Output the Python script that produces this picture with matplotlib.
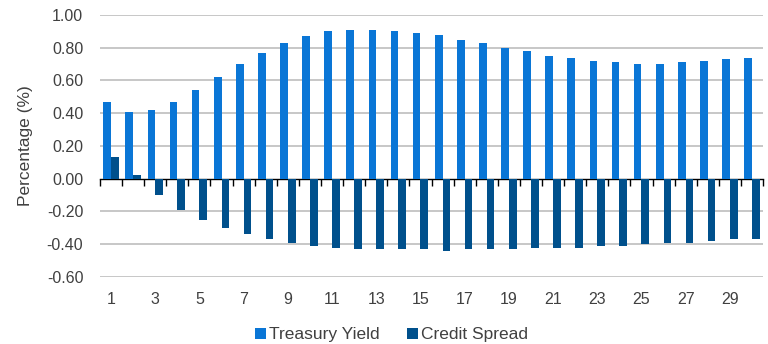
import numpy as np
import matplotlib.pyplot as plt

plt.rcParams['font.family'] = ['Liberation Sans', 'DejaVu Sans']

# maturity (years) and the two components of the change, in %
years = np.arange(1, 31)
treasury = [0.47, 0.41, 0.42, 0.47, 0.54, 0.62, 0.70, 0.77, 0.83, 0.87,
            0.90, 0.91, 0.91, 0.90, 0.89, 0.88, 0.85, 0.83, 0.80, 0.78,
            0.75, 0.74, 0.72, 0.71, 0.70, 0.70, 0.71, 0.72, 0.73, 0.74]
spread = [0.13, 0.02, -0.10, -0.19, -0.25, -0.30, -0.34, -0.37, -0.39, -0.41,
          -0.42, -0.43, -0.43, -0.43, -0.43, -0.44, -0.43, -0.43, -0.43, -0.42,
          -0.42, -0.42, -0.41, -0.41, -0.40, -0.39, -0.39, -0.38, -0.37, -0.37]
tick_years = years[::2]

light = '#0A76D6'
dark = '#00508C'
grey = '#404040'

fig = plt.figure(figsize=(7.68, 3.44), dpi=100)
ax = fig.add_axes([0.1302, 0.1948, 0.8633, 0.7616])

w = 0.35
ax.bar(years - w/2, treasury, width=w, color=light, label='Treasury Yield', zorder=2)
ax.bar(years + w/2, spread, width=w, color=dark, label='Credit Spread', zorder=2)

ax.set_xlim(0.5, 30.5)
ax.set_ylim(-0.6, 1.0)
yt = np.arange(-0.6, 1.01, 0.2)
ax.set_yticks(yt)
ax.set_yticklabels(['%.2f' % v for v in yt])
ax.set_xticks(tick_years)
ax.set_xticklabels([str(v) for v in tick_years])
ax.tick_params(axis='both', length=0, labelsize=11.5, colors=grey)
ax.tick_params(axis='y', pad=12)
ax.tick_params(axis='x', pad=11)
for s in ax.spines.values():
    s.set_visible(False)

# horizontal gridlines (zero line is drawn by the axis below)
for v in yt:
    if abs(v) > 1e-9:
        ax.axhline(v, color='#bdbdbd', lw=1.2, zorder=1)

# category axis sitting at zero, ticks between categories
sec = ax.secondary_xaxis(0, transform=ax.transData)
sec.set_xticks(np.arange(0.5, 31, 1))
sec.tick_params(length=5, width=1, color='black', labelbottom=False)
sec.spines['bottom'].set_color('black')
sec.spines['bottom'].set_linewidth(1.0)

ax.set_ylabel('Percentage (%)', fontsize=12.5, color=grey, labelpad=10)

fig.legend(loc='lower center', bbox_to_anchor=(0.51, -0.04), ncol=2, frameon=False,
           fontsize=12.5, handlelength=0.6, handleheight=0.6, handletextpad=0.2,
           columnspacing=1.6, labelcolor=grey)

fig.savefig('out.png', dpi=100)
